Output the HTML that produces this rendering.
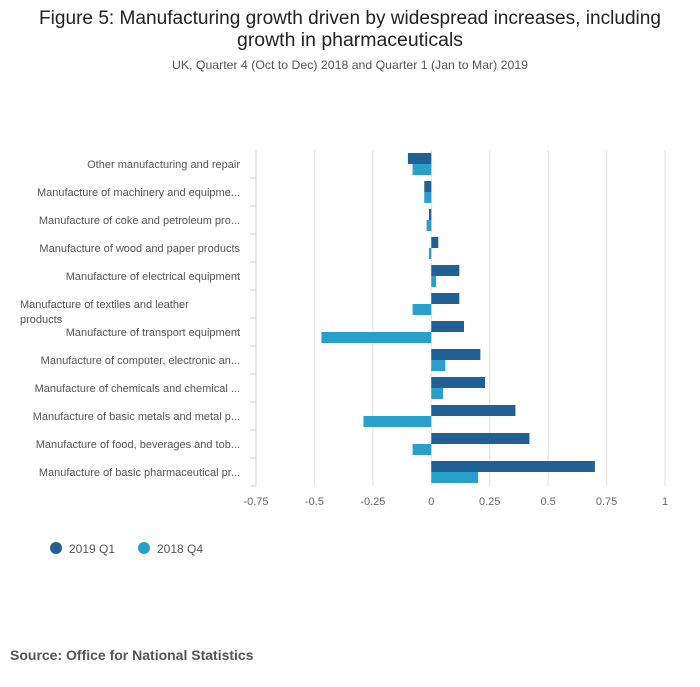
<!DOCTYPE html>
<html><head><meta charset="utf-8"><style>
body{margin:0;background:#fff;width:700px;height:682px;overflow:hidden;font-family:"Liberation Sans",sans-serif}
</style></head><body>
<svg id="chart" width="700" height="682" xmlns="http://www.w3.org/2000/svg" font-family="Liberation Sans, sans-serif">
<text x="350" y="24" text-anchor="middle" font-size="19" fill="#222" textLength="622" lengthAdjust="spacingAndGlyphs">Figure 5: Manufacturing growth driven by widespread increases, including</text>
<text x="350" y="46" text-anchor="middle" font-size="19" fill="#222" textLength="226" lengthAdjust="spacingAndGlyphs">growth in pharmaceuticals</text>
<text x="350" y="69" text-anchor="middle" font-size="12" fill="#555" textLength="356" lengthAdjust="spacingAndGlyphs">UK, Quarter 4 (Oct to Dec) 2018 and Quarter 1 (Jan to Mar) 2019</text>
<g id="plot"></g>
<g>
<circle cx="56" cy="548" r="6" fill="#206095"/>
<text x="69" y="553" font-size="12" fill="#555">2019 Q1</text>
<circle cx="144" cy="548" r="6" fill="#27a0cc"/>
<text x="157" y="553" font-size="12" fill="#555">2018 Q4</text>
</g>
<text x="10" y="660" font-size="14" font-weight="bold" fill="#555">Source: Office for National Statistics</text>
</svg>
<script>
const categories=["Other manufacturing and repair","Manufacture of machinery and equipme...","Manufacture of coke and petroleum pro...","Manufacture of wood and paper products","Manufacture of electrical equipment","Manufacture of textiles and leather products","Manufacture of transport equipment","Manufacture of computer, electronic an...","Manufacture of chemicals and chemical ...","Manufacture of basic metals and metal p...","Manufacture of food, beverages and tob...","Manufacture of basic pharmaceutical pr..."];
const q1Values=[-0.1,-0.03,-0.01,0.03,0.12,0.12,0.14,0.21,0.23,0.36,0.42,0.70];
const q4Values=[-0.08,-0.03,-0.02,-0.01,0.02,-0.08,-0.47,0.06,0.05,-0.29,-0.08,0.2];
const xTicks=[-0.75,-0.5,-0.25,0,0.25,0.5,0.75,1];
const xTickLabels=["-0.75","-0.5","-0.25","0","0.25","0.5","0.75","1"];
const NS="http://www.w3.org/2000/svg";
const plotG=document.getElementById('plot');
const x0=256,x1=665,vmin=-0.75,vmax=1,plotTop=150,band=28;
const xs=v=>x0+(v-vmin)/(vmax-vmin)*(x1-x0);
function mk(t,a){const e=document.createElementNS(NS,t);for(const k in a)e.setAttribute(k,a[k]);plotG.appendChild(e);return e;}
xTicks.forEach((t,i)=>{
 const l=mk('line',{x1:xs(t),x2:xs(t),y1:plotTop,y2:plotTop+band*categories.length,stroke:i==0?'#c9d3e6':'#e0e0e0','stroke-width':1});
 
 
 const tx=mk('text',{x:xs(t),y:505,'text-anchor':'middle','font-size':11,fill:'#666'});
 tx.textContent=xTickLabels[i];
 
 
});
categories.forEach((c,i)=>{
 const yb=plotTop+band*i;
 const tk=mk('line',{x1:250,x2:256,y1:yb+band,y2:yb+band,stroke:'#c9d3e6'});
 
 
 if(i==5){
  const t1=mk('text',{x:20,y:yb+18,'font-size':11,fill:'#555'});t1.textContent="Manufacture of textiles and leather";
  
  
  const t2=mk('text',{x:20,y:yb+33,'font-size':11,fill:'#555'});t2.textContent="products";
  
  
 } else {
  const t=mk('text',{x:240,y:yb+18,'text-anchor':'end','font-size':11,fill:'#555'});t.textContent=c;
  
  
 }
 const a=q1Values[i],b=q4Values[i],z=xs(0);
 const r1=mk('rect',{x:Math.min(z,xs(a)),y:yb+3,width:Math.abs(xs(a)-z),height:11,fill:'#206095'});
 
 
 const r2=mk('rect',{x:Math.min(z,xs(b)),y:yb+14,width:Math.abs(xs(b)-z),height:11,fill:'#27a0cc'});
 
 
});
</script>
</body></html>
